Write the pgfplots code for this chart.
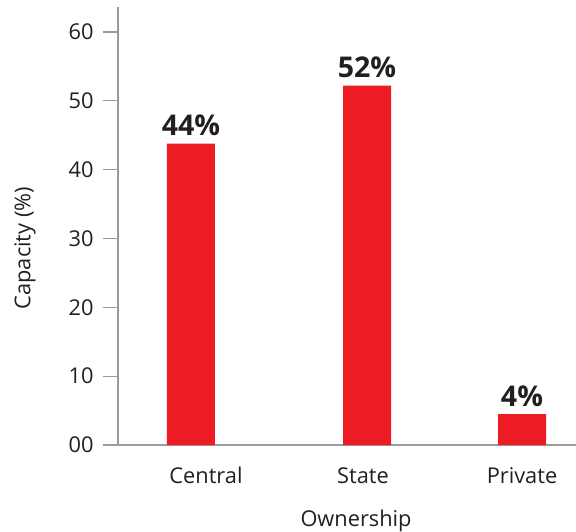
\documentclass[border=0pt]{standalone}
\usepackage{pgfplots}
\pgfplotsset{compat=1.18}
\usepackage{fontspec}
\setmainfont{Open Sans}
\definecolor{barred}{RGB}{237,28,36}
\definecolor{txt}{RGB}{35,31,32}
\definecolor{axgray}{RGB}{155,155,155}
\begin{document}
\begin{tikzpicture}
\begin{axis}[
  name=ax,
  x=0.75bp, y=5.1625bp,
  xmin=118, xmax=576, ymin=0, ymax=63.6,
  axis x line*=bottom, axis y line*=left,
  axis line style={axgray, line width=0.8bp, -},
  ytick={0,10,20,30,40,50,60},
  yticklabels={00,10,20,30,40,50,60},
  xtick={206,363,522},
  xticklabels={Central,State,Private},
  x tick style={draw=none},
  y tick style={axgray, line width=0.8bp},
  tick align=outside,
  major tick length=11.25bp,
  /pgf/number format/assume math mode=true,
  tick label style={font=\fontsize{16.4}{18}\selectfont, text=txt},
  yticklabel style={anchor=east, xshift=-3.5bp},
  xticklabel style={anchor=base, yshift=-17.5bp},
  xlabel={Ownership},
  ylabel={Capacity (\%)},
  label style={font=\fontsize{16.4}{18}\selectfont, text=txt},
  xlabel style={at={(axis description cs:0.5197,0)}, anchor=base, yshift=-60.75bp},
  ylabel style={at={(axis description cs:-0.2031,0.4498)}, anchor=center},
  clip=false,
]
\addplot[ybar, fill=barred, draw=none, bar width=48,
  point meta=explicit symbolic,
  nodes near coords,
  nodes near coords style={anchor=base, inner sep=0pt, yshift=6bp,
    font=\fontsize{21.5}{24}\selectfont\bfseries, text=txt}]
  coordinates {(191,43.8) [44\%] (367,52.2) [52\%] (522,4.5) [4\%]};
\end{axis}
\pgfresetboundingbox
\path ([shift={(-88.5bp,-65.25bp)}]ax.south west) rectangle ([shift={(343.5bp,333.75bp)}]ax.south west);
\end{tikzpicture}
\end{document}
